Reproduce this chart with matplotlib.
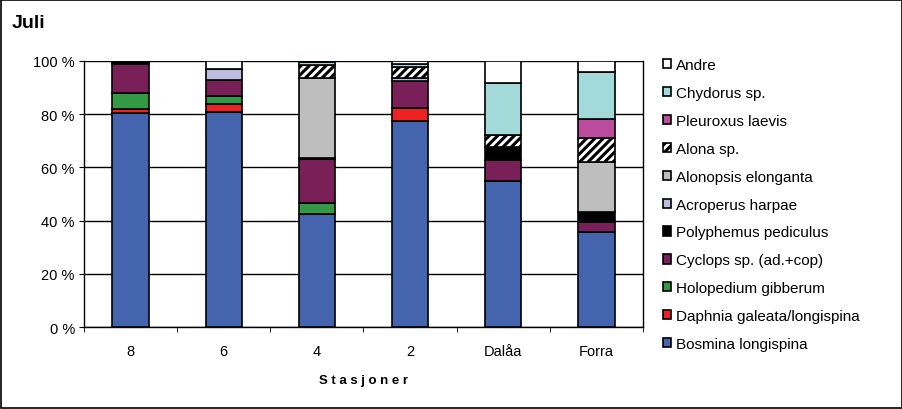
import matplotlib
matplotlib.use("Agg")
import matplotlib.pyplot as plt
import numpy as np
from matplotlib.patches import Rectangle

plt.rcParams['font.family'] = ['Liberation Sans', 'DejaVu Sans']
plt.rcParams['hatch.linewidth'] = 2.2

stations = ['8', '6', '4', '2', 'Dalåa', 'Forra']
species = ['Bosmina longispina', 'Daphnia galeata/longispina', 'Holopedium gibberum',
           'Cyclops sp. (ad.+cop)', 'Polyphemus pediculus', 'Acroperus harpae',
           'Alonopsis elonganta', 'Alona sp.', 'Pleuroxus laevis', 'Chydorus sp.', 'Andre']

bosmina    = [80.5, 81.0, 42.5, 77.5, 54.7, 35.8]
daphnia    = [1.5, 3.0, 0.0, 5.0, 0.0, 0.0]
holopedium = [6.0, 3.0, 4.0, 0.0, 0.0, 0.0]
cyclops    = [11.0, 6.0, 16.5, 10.0, 8.0, 3.6]
polyphemus = [0.6, 0.0, 0.0, 0.0, 5.0, 3.7]
acroperus  = [0.0, 4.0, 0.5, 1.2, 0.0, 0.0]
alonopsis  = [0.0, 0.0, 30.0, 0.0, 0.0, 19.0]
alona      = [0.0, 0.0, 5.0, 4.0, 4.5, 8.8]
pleuroxus  = [0.0, 0.0, 0.0, 0.0, 0.0, 7.3]
chydorus   = [0.0, 0.0, 1.0, 1.0, 19.5, 17.5]
andre      = [0.4, 3.0, 0.5, 1.3, 8.3, 4.4]

series = [bosmina, daphnia, holopedium, cyclops, polyphemus, acroperus,
          alonopsis, alona, pleuroxus, chydorus, andre]
colors = ['#4464AE', '#EE2222', '#339944', '#7A2058', '#000000', '#BDBDE0',
          '#BEBEBE', '#FFFFFF', '#BB4C9E', '#A3D9D9', '#FFFFFF']
hatches = [None, None, None, None, None, None, None, '////', None, None, None]

fig = plt.figure(figsize=(9.03, 4.10), dpi=100)
ax = fig.add_axes([84/903, 1-328/410, (643-84)/903, (328-62)/410])

x = np.arange(len(stations))
bottom = np.zeros(len(stations))
handles = []
for name, vals, c, h in zip(species, series, colors, hatches):
    v = np.array(vals, dtype=float)
    b = ax.bar(x, v, bottom=bottom, width=0.39, color=c, edgecolor='black',
               linewidth=1.2, hatch=h, label=name, zorder=3)
    handles.append(b)
    bottom += v

ax.set_xlim(-0.5, len(stations) - 0.5)
ax.set_ylim(0, 100)
ax.set_yticks(np.arange(0, 101, 20))
ax.set_yticklabels([f'{v} %' for v in range(0, 101, 20)], fontsize=10.5)
ax.yaxis.grid(True, color='black', linewidth=1.0, zorder=0)
ax.set_axisbelow(True)
ax.set_xticks(x)
ax.set_xticklabels(stations, fontsize=10.5)
ax.tick_params(axis='x', length=0, pad=12)
ax.set_xticks(np.arange(-0.5, len(stations), 1), minor=True)
ax.tick_params(axis='x', which='minor', length=3.6, direction='out', color='black')
ax.tick_params(axis='y', length=3.6, direction='out', pad=3)
for s in ['left', 'bottom', 'right']:
    ax.spines[s].set_color('black')
    ax.spines[s].set_linewidth(1.0)
ax.spines['top'].set_visible(False)

ax.set_xlabel('S t a s j o n e r', fontsize=9.5, fontweight='bold', labelpad=12)

fig.text(12/903, 1-23/410, 'Juli', fontsize=14, fontweight='bold', va='center', ha='left')

leg = fig.legend(handles[::-1], species[::-1], loc='upper left',
                 bbox_to_anchor=(663/903, 1-59/410), frameon=False, fontsize=11,
                 handlelength=0.55, handleheight=0.55, handletextpad=0.3,
                 labelspacing=0.91, borderaxespad=0, borderpad=0)

fig.patches.append(Rectangle((1/903, 1/410), 1-2/903, 1-2/410, transform=fig.transFigure,
                             fill=False, edgecolor='black', linewidth=1.2))

fig.savefig('out.png', dpi=100)
